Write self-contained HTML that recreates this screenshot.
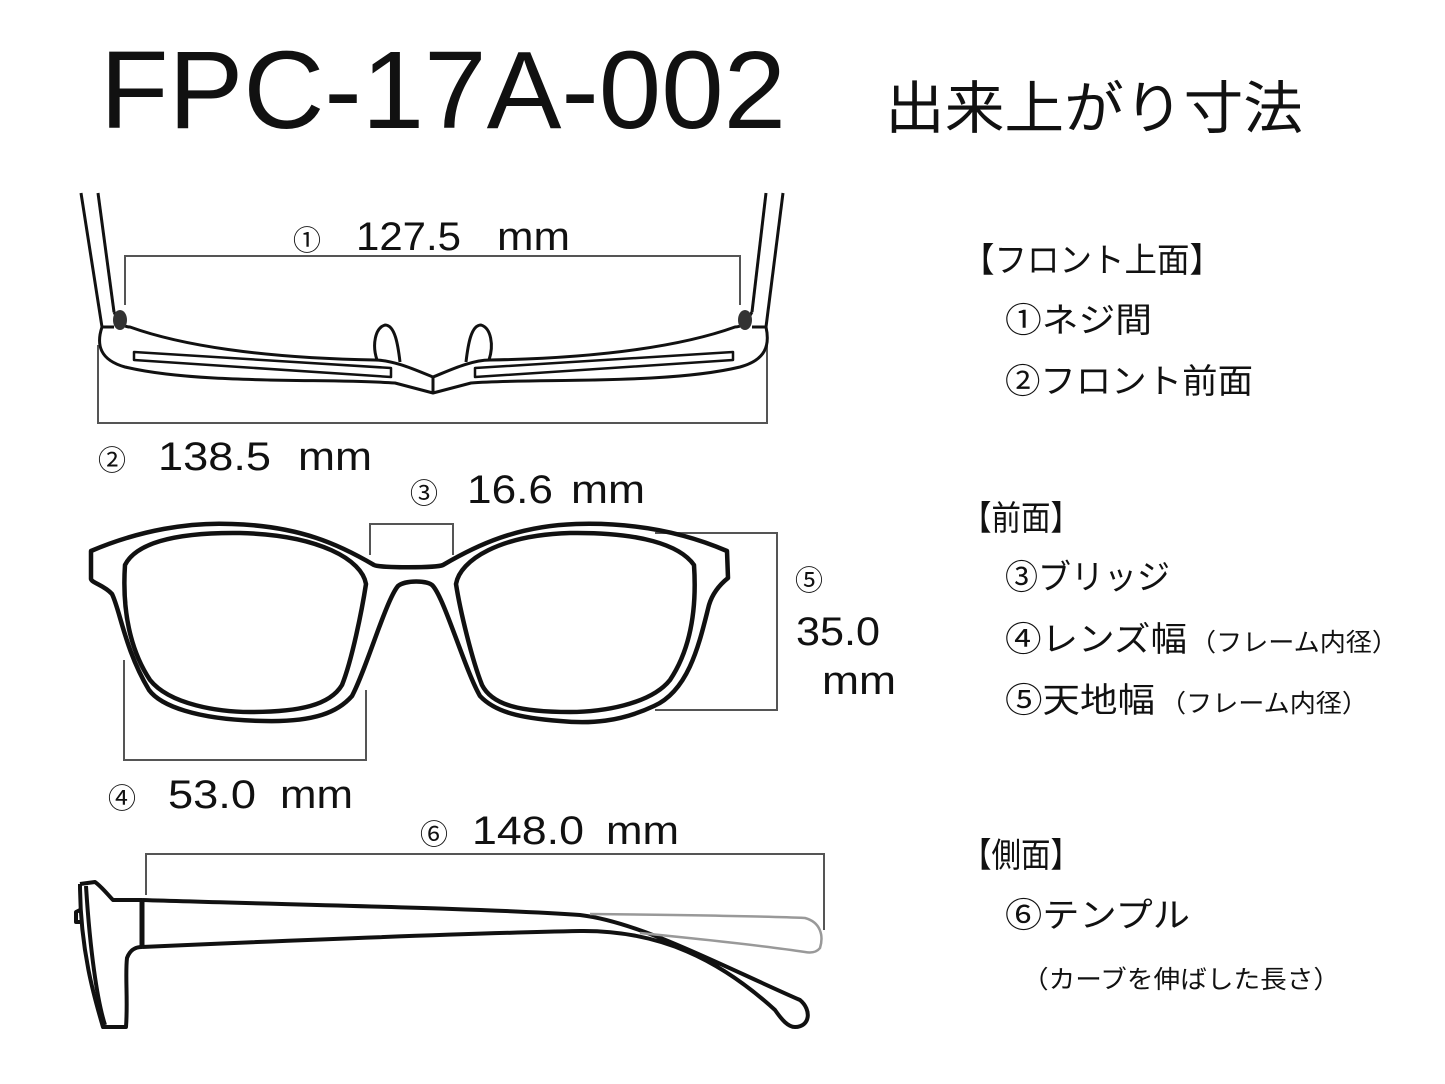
<!DOCTYPE html>
<html><head><meta charset="utf-8"><style>
html,body{margin:0;padding:0;background:#fff;}
svg{display:block;}
text{font-family:"Liberation Sans","Noto Sans CJK JP",sans-serif;fill:#111;}
</style></head><body>
<svg width="1445" height="1084" viewBox="0 0 1445 1084" xmlns="http://www.w3.org/2000/svg">
<rect width="1445" height="1084" fill="#fff"/>
<!-- Title -->
<text x="100" y="128" font-size="110" textLength="686" lengthAdjust="spacingAndGlyphs">FPC-17A-002</text>
<text x="885" y="128" font-size="57" textLength="418" lengthAdjust="spacingAndGlyphs">出来上がり寸法</text>

<!-- Right column -->
<g font-size="34">
<text x="962" y="272" textLength="260" lengthAdjust="spacingAndGlyphs">【フロント上面】</text>
<text x="1005" y="332" textLength="147" lengthAdjust="spacingAndGlyphs">①ネジ間</text>
<text x="1005" y="393" textLength="248" lengthAdjust="spacingAndGlyphs">②フロント前面</text>
<text x="962" y="530" textLength="118" lengthAdjust="spacingAndGlyphs">【前面】</text>
<text x="1005" y="589" textLength="165" lengthAdjust="spacingAndGlyphs">③ブリッジ</text>
<text x="1005" y="651" textLength="182" lengthAdjust="spacingAndGlyphs">④レンズ幅</text>
<text x="1190" y="651" font-size="25" textLength="208" lengthAdjust="spacingAndGlyphs">（フレーム内径）</text>
<text x="1005" y="712" textLength="150" lengthAdjust="spacingAndGlyphs">⑤天地幅</text>
<text x="1160" y="712" font-size="25" textLength="208" lengthAdjust="spacingAndGlyphs">（フレーム内径）</text>
<text x="962" y="867" textLength="118" lengthAdjust="spacingAndGlyphs">【側面】</text>
<text x="1005" y="927" textLength="185" lengthAdjust="spacingAndGlyphs">⑥テンプル</text>
<text x="1022" y="988" font-size="25" textLength="318" lengthAdjust="spacingAndGlyphs">（カーブを伸ばした長さ）</text>
</g>

<!-- Dimension labels -->
<g font-size="40" fill="#222">
<text x="293" y="250" font-size="28">①</text>
<text x="356" y="250" textLength="105" lengthAdjust="spacingAndGlyphs">127.5</text>
<text x="497" y="250" textLength="73" lengthAdjust="spacingAndGlyphs">mm</text>
<text x="98" y="470" font-size="28">②</text>
<text x="158" y="470" textLength="113" lengthAdjust="spacingAndGlyphs">138.5</text>
<text x="298" y="470" textLength="74" lengthAdjust="spacingAndGlyphs">mm</text>
<text x="410" y="503" font-size="28">③</text>
<text x="467" y="503" textLength="86" lengthAdjust="spacingAndGlyphs">16.6</text>
<text x="571" y="503" textLength="74" lengthAdjust="spacingAndGlyphs">mm</text>
<text x="795" y="590" font-size="28">⑤</text>
<text x="796" y="645" textLength="84" lengthAdjust="spacingAndGlyphs">35.0</text>
<text x="822" y="694" textLength="74" lengthAdjust="spacingAndGlyphs">mm</text>
<text x="108" y="808" font-size="28">④</text>
<text x="168" y="808" textLength="88" lengthAdjust="spacingAndGlyphs">53.0</text>
<text x="280" y="808" textLength="73" lengthAdjust="spacingAndGlyphs">mm</text>
<text x="420" y="844" font-size="28">⑥</text>
<text x="472" y="844" textLength="112" lengthAdjust="spacingAndGlyphs">148.0</text>
<text x="606" y="844" textLength="73" lengthAdjust="spacingAndGlyphs">mm</text>
</g>

<!-- Dimension lines -->
<g fill="none" stroke="#555" stroke-width="2">
<polyline points="125,305 125,256 740,256 740,305"/>
<polyline points="98,345 98,423 767,423 767,345"/>
<polyline points="370,555 370,524 453,524 453,555"/>
<polyline points="124,660 124,760 366,760 366,690"/>
<polyline points="655,533 777,533 777,710 655,710"/>
<polyline points="146,895 146,854 824,854 824,930"/>
</g>

<!-- Top view -->
<g fill="none" stroke="#111" stroke-width="3" stroke-linejoin="round">
<path d="M81,193 L102,327"/>
<path d="M98,193 L114,312"/>
<path d="M783,193 L766,327"/>
<path d="M766,193 L752,312"/>
<path d="M102,327 C96,345 100,360 125,367 C200,385 330,378 395,383 L433,393 L471,383 C536,378 665,385 740,367 C766,360 770,345 766,327"/>
<path d="M114,312 C120,325 125,327 130,327 C180,345 260,358 375,360 C395,360 420,372 433,377 C446,372 470,360 490,360 C605,358 685,345 735,327 C740,327 745,325 752,312" />
<path d="M102,327 L114,327 M752,327 L766,327"/>
<path d="M134,352 L391,368 L391,377 L134,360 Z" stroke-width="2.5"/>
<path d="M733,352 L475,368 L475,377 L733,360 Z" stroke-width="2.5"/>
<path d="M433,377 L433,393"/>
<path d="M377,360 C372,345 375,328 385,325 C395,325 398,345 400,362"/>
<path d="M489,360 C494,345 491,328 481,325 C471,325 468,345 466,362"/>
</g>
<ellipse cx="120" cy="320" rx="7" ry="10" fill="#333"/>
<ellipse cx="745" cy="320" rx="7" ry="10" fill="#333"/>

<!-- Front view -->
<g fill="none" stroke="#111" stroke-width="4.5" stroke-linejoin="round">
<path d="M91,551 C140,530 190,522 232,524 C300,526 340,545 374,565 C380,568 436,568 443,565 C477,545 517,526 576,524 C640,522 690,535 727,551 L728,578 C718,586 712,595 709,605 C700,640 690,690 654,706 C620,722 590,724 560,721 C520,718 495,712 480,696 C465,670 445,600 433,586 C428,580 405,580 398,586 C386,600 366,670 352,696 C338,712 315,722 265,721 C195,720 160,705 149,690 C125,650 120,610 112,594 C104,585 92,583 91,579 Z"/>
<path d="M240,533 C170,532 135,545 125,565 C122,610 130,650 150,680 C170,705 220,712 250,712 C300,712 330,705 342,685 C352,660 362,610 366,584 C362,560 320,535 240,533 Z"/>
<path d="M570,533 C640,532 680,545 694,565 C697,610 690,650 670,680 C650,705 600,712 570,712 C520,712 492,705 482,685 C472,660 460,610 456,584 C460,560 500,535 570,533 Z"/>
</g>

<!-- Side view -->
<g fill="none" stroke="#111" stroke-width="4" stroke-linejoin="round">
<path d="M80,884 C80,950 95,1000 103,1027 L126,1027 C128,1000 125,975 127,958 C130,950 135,947 142,947"/>
<path d="M80,884 L95,882 C102,887 108,895 113,900 L142,900"/>
<path d="M86,886 C90,950 97,1000 105,1025"/>
<path d="M142,900 L142,947" stroke-width="5"/>
<path d="M142,900 C300,905 480,908 580,915 C640,922 720,965 800,1000 C812,1010 810,1027 795,1027 C788,1027 782,1020 775,1010 C720,960 660,930 580,931 C480,933 300,940 142,947"/>
<path d="M80,910 L76,912 L76,922 L80,922"/>
</g>
<path d="M590,914 C680,915 760,916 805,918 C820,922 824,935 820,948 C816,953 810,953 805,952 C760,945 690,938 640,933" fill="none" stroke="#999" stroke-width="2.5"/>
</svg>
</body></html>
